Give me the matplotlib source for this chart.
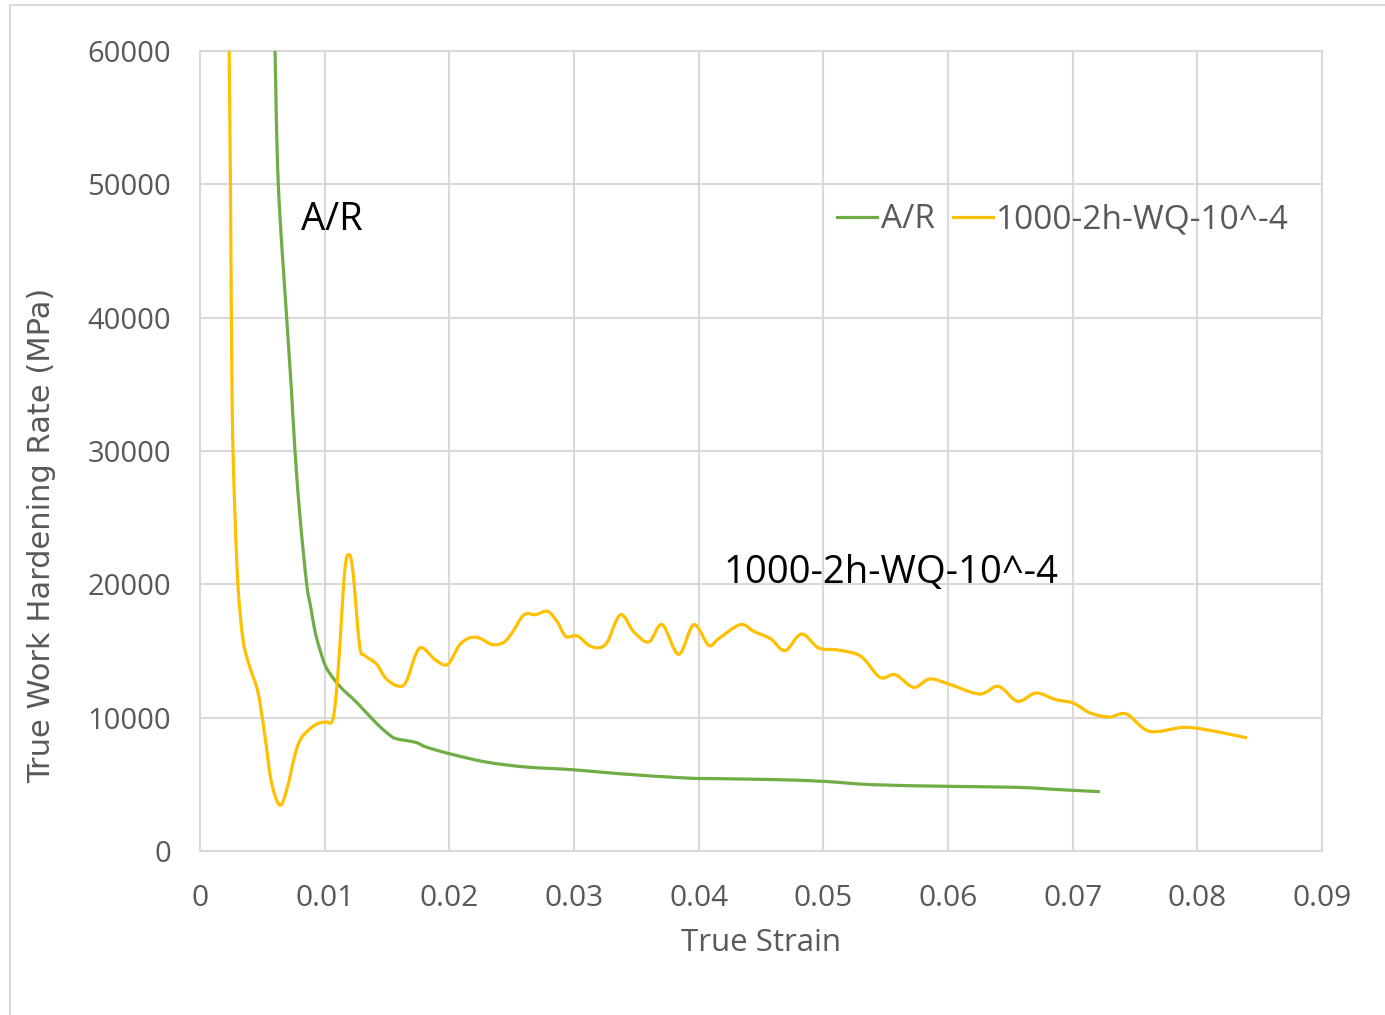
import matplotlib
matplotlib.use('Agg')
import matplotlib.pyplot as plt
import numpy as np
from matplotlib.patches import Rectangle, PathPatch
from matplotlib.path import Path
from matplotlib.lines import Line2D

# data
ar_strain = [0.00602, 0.00628, 0.00695, 0.0073, 0.00762, 0.00802, 0.00856, 0.00888, 0.00922,
             0.00962, 0.01016, 0.01123, 0.01257, 0.01418, 0.01516, 0.01573,
             0.01729, 0.01813, 0.02, 0.02293, 0.02613, 0.02987, 0.0336, 0.03893, 0.0416,
             0.04626, 0.05, 0.05393, 0.06, 0.06558, 0.06804, 0.07, 0.07218]
ar_rate = [60000, 50000, 40000, 35080, 30000, 25075, 20000, 18300, 16500,
           15100, 13700, 12340, 11140, 9550, 8740, 8425,
           8150, 7800, 7300, 6675, 6300, 6100, 5800, 5475, 5425,
           5350, 5225, 4975, 4850, 4775, 4650, 4550, 4450]

wq_strain = [0.00234, 0.00245, 0.00258, 0.00279, 0.00306, 0.00346, 0.00399, 0.00465, 0.00519,
             0.00572, 0.00638, 0.00691, 0.00785, 0.00878, 0.00957, 0.01013, 0.01067, 0.01107,
             0.0116, 0.01195, 0.01227, 0.0128, 0.0132, 0.01413, 0.01493, 0.01587, 0.01653,
             0.01733, 0.01787, 0.01893, 0.01987, 0.0208, 0.0216, 0.0224, 0.02347, 0.0244,
             0.02507, 0.026, 0.02693, 0.02787, 0.02867, 0.02933, 0.03027, 0.0312, 0.032,
             0.03267, 0.03373, 0.0348, 0.036, 0.03707, 0.0384, 0.0396, 0.0408, 0.0416,
             0.04334, 0.04442, 0.0458, 0.04693, 0.04825, 0.04963, 0.05117, 0.05301, 0.05454,
             0.05577, 0.05724, 0.05853, 0.06006, 0.06252, 0.06405, 0.06558, 0.06706, 0.06865,
             0.07003, 0.07141, 0.07294, 0.07432, 0.07617, 0.07908, 0.08184, 0.08399]
wq_rate = [60000, 49100, 33400, 25600, 19700, 15800, 13800, 11900, 8740,
           5200, 3450, 4430, 7950, 9130, 9600, 9675, 9925, 13425,
           20900, 22225, 20925, 15425, 14675, 14050, 12925, 12375, 12675,
           14800, 15225, 14300, 14000, 15425, 15975, 15975, 15475, 15675,
           16425, 17725, 17725, 17975, 17175, 16100, 16125, 15425, 15250,
           15675, 17725, 16425, 15675, 16975, 14750, 16975, 15425, 15925,
           16975, 16475, 15900, 15025, 16275, 15225, 15075, 14600, 13025,
           13225, 12275, 12900, 12525, 11775, 12350, 11225, 11850, 11350,
           11100, 10350, 10050, 10275, 8975, 9275, 8900, 8475]

x_ticks = [0, 0.01, 0.02, 0.03, 0.04, 0.05, 0.06, 0.07, 0.08, 0.09]
x_labels = ['0', '0.01', '0.02', '0.03', '0.04', '0.05', '0.06', '0.07', '0.08', '0.09']
y_ticks = [0, 10000, 20000, 30000, 40000, 50000, 60000]

grid_c = '#d9d9d9'
text_c = '#595959'
green = '#70ad47'
yellow = '#ffc000'


def smooth_path(xs, ys):
    # Excel-style smoothed line: bezier segments through the points
    p = np.column_stack([xs, ys]).astype(float)
    verts = [p[0]]
    codes = [Path.MOVETO]
    n = len(p)
    for i in range(n - 1):
        p0 = p[i - 1] if i > 0 else p[i]
        p3 = p[i + 2] if i + 2 < n else p[i + 1]
        c1 = p[i] + (p[i + 1] - p0) / 6.0
        c2 = p[i + 1] - (p3 - p[i]) / 6.0
        verts += [c1, c2, p[i + 1]]
        codes += [Path.CURVE4] * 3
    return Path(verts, codes)


fig = plt.figure(figsize=(13.85, 10.15), dpi=100)
fig.patches.append(Rectangle((10 / 1385, -0.01), 1.02, 1 - 5 / 1015 + 0.01, transform=fig.transFigure,
                             fill=False, edgecolor=grid_c, linewidth=1.5))
ax = fig.add_axes([200 / 1385, 1 - 851 / 1015, 1122 / 1385, 800 / 1015])

for xs, ys, c in [(ar_strain, ar_rate, green), (wq_strain, wq_rate, yellow)]:
    ax.add_patch(PathPatch(smooth_path(xs, ys), facecolor='none', edgecolor=c,
                           linewidth=2.3, joinstyle='round', capstyle='butt', zorder=3))

ax.set_xlim(0, 0.09)
ax.set_ylim(0, 60000)
ax.set_xticks(x_ticks)
ax.set_xticklabels(x_labels)
ax.set_yticks(y_ticks)
ax.set_yticklabels([str(v) for v in y_ticks])
ax.tick_params(axis='y', length=0, labelsize=21, labelcolor=text_c, pad=21)
ax.tick_params(axis='x', length=0, labelsize=21.5, labelcolor=text_c, pad=24)
for lbl in ax.get_xticklabels() + ax.get_yticklabels():
    lbl.set_family('Open Sans')
ax.grid(True, color=grid_c, linewidth=1.5)
ax.set_axisbelow(True)
for s in ax.spines.values():
    s.set_color(grid_c)
    s.set_linewidth(1.5)

ax.set_xlabel('True Strain', fontsize=22.5, color=text_c, family='Open Sans')
ax.xaxis.set_label_coords((761 - 200) / 1122, (851 - 943) / 800)
ax.set_ylabel('True Work Hardening Rate (MPa)', fontsize=22, color=text_c, family='DejaVu Sans')
ax.yaxis.set_label_coords((42 - 200) / 1122, (851 - 535) / 800)
ax.xaxis.label.set_va('center')
ax.yaxis.label.set_va('center')

ax.text(0.0106, 47300, 'A/R', fontsize=27.5, family='Open Sans', ha='center', va='center')
ax.text(0.0554, 20850, '1000-2h-WQ-10^-4', fontsize=27.5, family='Open Sans', ha='center', va='center')

handles = [Line2D([], [], color=green, linewidth=2.3), Line2D([], [], color=yellow, linewidth=2.3)]
leg = ax.legend(handles, ['A/R', '1000-2h-WQ-10^-4'], loc='center right',
                bbox_to_anchor=((1289 - 200) / 1122, (851 - 220) / 800), ncol=2, frameon=False,
                handlelength=1.2, handletextpad=0.1, columnspacing=0.55, borderpad=0, borderaxespad=0,
                prop={'family': 'Open Sans', 'size': 24})
for t in leg.get_texts():
    t.set_color(text_c)

fig.savefig('out.png', dpi=100)
